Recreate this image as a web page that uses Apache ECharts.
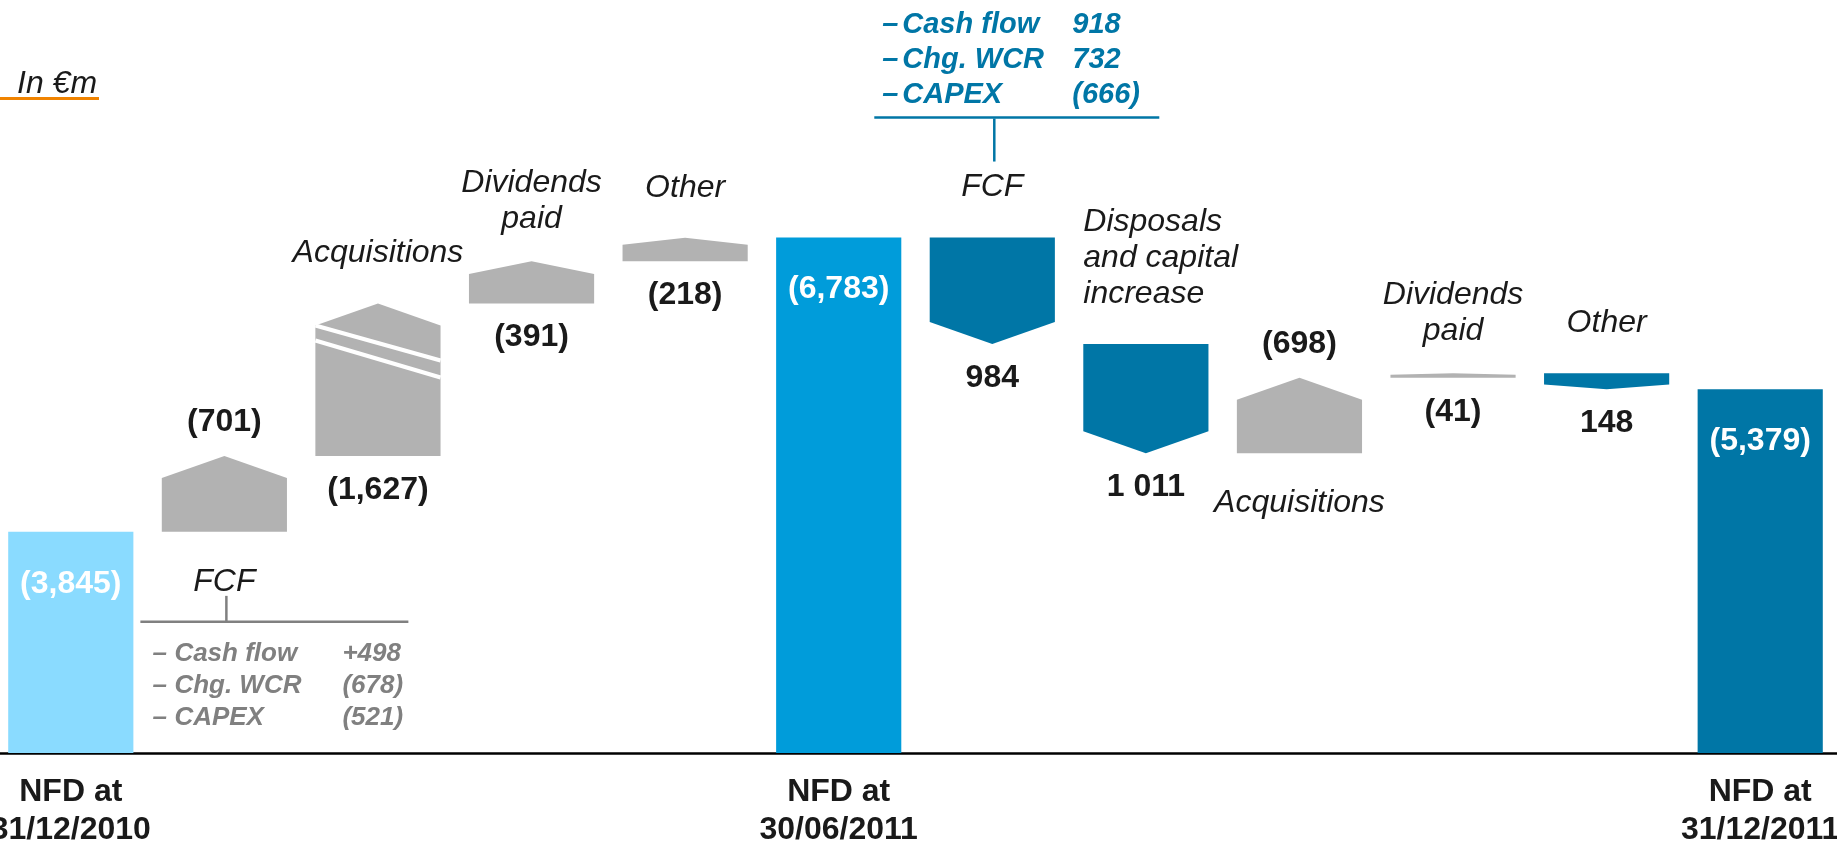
<!DOCTYPE html>
<html>
<head>
<meta charset="utf-8">
<title>Net financial debt bridge</title>
<script src="https://cdn.jsdelivr.net/npm/echarts@6/dist/echarts.min.js"></script>
<style>
  html, body { margin: 0; padding: 0; background: #fff; }
  #chart { width: 1837px; height: 844px; }
</style>
</head>
<body>
<div id="chart"></div>
<script>
// net financial debt bridge, in €m (positive change = more debt)
const stepNames = [
  'NFD at\n31/12/2010', 'FCF', 'Acquisitions', 'Dividends\npaid', 'Other',
  'NFD at\n30/06/2011', 'FCF', 'Disposals\nand capital\nincrease', 'Acquisitions', 'Dividends\npaid', 'Other',
  'NFD at\n31/12/2011',
];
const stepKinds = ['total', 'step', 'step', 'step', 'step', 'total', 'step', 'step', 'step', 'step', 'step', 'total'];
const stepValues = [3845, 701, 1627, 391, 218, 6783, -984, -1011, 698, 41, -148, 5379];
const valueLabels = ['(3,845)', '(701)', '(1,627)', '(391)', '(218)', '(6,783)', '984', '1 011', '(698)', '(41)', '148', '(5,379)'];

// FCF breakdowns
const fcfItems = ['Cash flow', 'Chg. WCR', 'CAPEX'];
const fcfH1Values = ['+498', '(678)', '(521)'];
const fcfH2Values = ['918', '732', '(666)'];

// y scale: the slide does not start at zero and squeezes the first acquisitions block
const AXIS_FLOOR = 1800;
const AXIS_TOP = 7500;
const AXIS_BREAK = { start: 4548, end: 4786 };

const FONT = '"Liberation Sans", Arial, sans-serif';
const TEXT = '#1a1a1a';
const GREY = '#b2b2b2';
const GREY_TEXT = '#808080';
const DARK_BLUE = '#0076a6';
const totalColors = { 0: '#8adbff', 5: '#009cda', 11: DARK_BLUE };
const labelAbove = new Set([1, 8]);
const leftAlignedDesc = new Set([7]);

const buildSeriesData = () => {
  let level = 0;
  return stepValues.map((value, i) => {
    if (stepKinds[i] === 'total') {
      level = value;
      return [i, AXIS_FLOOR, value];
    }
    const from = level;
    level += value;
    return [i, from, level];
  });
};

const text = (str, x, y, opts) => ({
  type: 'text',
  style: Object.assign({ text: str, x, y, fill: TEXT, fontSize: 32, fontFamily: FONT, align: 'center', verticalAlign: 'middle' }, opts),
});
const line = (x1, y1, x2, y2, stroke, lineWidth) => ({
  type: 'line',
  shape: { x1, y1, x2, y2 },
  style: { stroke, lineWidth },
});

const fcfBreakdown = (children, values, cx, rowYs, offsets, color, fontSize) => {
  fcfItems.forEach((item, k) => {
    const base = { fill: color, fontSize, fontWeight: 'bold', fontStyle: 'italic', align: 'left' };
    children.push(text('–', cx + offsets[0], rowYs[k], base));
    children.push(text(item, cx + offsets[1], rowYs[k], base));
    children.push(text(values[k], cx + offsets[2], rowYs[k], base));
  });
};

const renderStep = (params, api) => {
  const i = api.value(0);
  const from = api.value(1);
  const to = api.value(2);
  const [cx, yFrom] = api.coord([i, from]);
  const yTo = api.coord([i, to])[1];
  const w = api.size([1, 0])[0] * 0.815;
  const left = cx - w / 2;
  const right = cx + w / 2;
  const top = Math.min(yFrom, yTo);
  const bottom = Math.max(yFrom, yTo);
  const children = [];

  if (stepKinds[i] === 'total') {
    children.push({ type: 'rect', shape: { x: left, y: top, width: w, height: bottom - top }, style: { fill: totalColors[i] } });
    children.push(text(valueLabels[i], cx, top + 52, { fill: '#fff', fontWeight: 'bold' }));
    return { type: 'group', children };
  }

  const up = to > from;
  const cap = Math.min((bottom - top) * 0.3, 22);
  const points = up
    ? [[left, bottom], [right, bottom], [right, top + cap], [cx, top], [left, top + cap]]
    : [[left, top], [right, top], [right, bottom - cap], [cx, bottom], [left, bottom - cap]];
  children.push({ type: 'polygon', shape: { points }, style: { fill: up ? GREY : DARK_BLUE } });

  // break marks on the squeezed block
  if (i === 2) {
    const s = top + cap;
    children.push(line(left, s, right, s + 35, '#fff', 4));
    children.push(line(left, s + 15, right, s + 52, '#fff', 4));
  }

  const above = labelAbove.has(i);
  children.push(text(valueLabels[i], cx, above ? top - 34 : bottom + 34, { fontWeight: 'bold' }));

  const descLeft = leftAlignedDesc.has(i);
  const gap = stepNames[i].split('\n').length === 2 ? 24 : 32;
  children.push(text(stepNames[i], descLeft ? left : cx, above ? bottom + gap : top - gap, {
    fontStyle: 'italic',
    lineHeight: 36,
    align: descLeft ? 'left' : 'center',
    verticalAlign: above ? 'top' : 'bottom',
  }));

  if (i === 1) {
    children.push(line(cx + 2, bottom + 64, cx + 2, bottom + 90, GREY_TEXT, 2.5));
    children.push(line(cx - 84, bottom + 90, cx + 184, bottom + 90, GREY_TEXT, 2.5));
    fcfBreakdown(children, fcfH1Values, cx, [bottom + 122, bottom + 154, bottom + 186], [-72, -50, 118], GREY_TEXT, 26);
  }
  if (i === 6) {
    children.push(line(cx + 2, top - 76, cx + 2, top - 119, DARK_BLUE, 2.5));
    children.push(line(cx - 118, top - 120, cx + 167, top - 120, DARK_BLUE, 2.5));
    fcfBreakdown(children, fcfH2Values, cx, [top - 213, top - 178, top - 143], [-110, -90, 80], DARK_BLUE, 29);
  }

  return { type: 'group', children };
};

const chart = echarts.init(document.getElementById('chart'));
chart.setOption({
  animation: false,
  title: {
    text: 'In €m',
    left: 12,
    top: 63,
    textStyle: { fontSize: 32, fontStyle: 'italic', fontWeight: 'normal', fontFamily: FONT, color: TEXT },
  },
  graphic: [{ type: 'rect', left: 0, top: 97, shape: { width: 99, height: 3 }, style: { fill: '#f08300' } }],
  grid: { left: -6, right: 0, top: 160, bottom: 91, containLabel: false, outerBoundsMode: 'none' },
  xAxis: {
    type: 'category',
    data: stepNames,
    axisTick: { show: false },
    axisLine: { lineStyle: { color: '#000', width: 2.5 } },
    axisLabel: {
      interval: 0,
      formatter: (value, idx) => (stepKinds[idx] === 'total' ? value : ''),
      fontSize: 32,
      fontWeight: 'bold',
      fontFamily: FONT,
      color: TEXT,
      lineHeight: 38,
      margin: 20,
    },
    splitLine: { show: false },
  },
  yAxis: {
    type: 'value',
    min: AXIS_FLOOR,
    max: AXIS_TOP,
    breaks: [{ start: AXIS_BREAK.start, end: AXIS_BREAK.end, gap: '0.4%' }],
    breakArea: { show: false },
    axisLine: { show: false },
    axisTick: { show: false },
    axisLabel: { show: false },
    splitLine: { show: false },
  },
  series: [
    {
      type: 'custom',
      renderItem: renderStep,
      data: buildSeriesData(),
      clip: false,
      encode: { x: 0, y: [1, 2] },
    },
  ],
});
</script>
</body>
</html>
